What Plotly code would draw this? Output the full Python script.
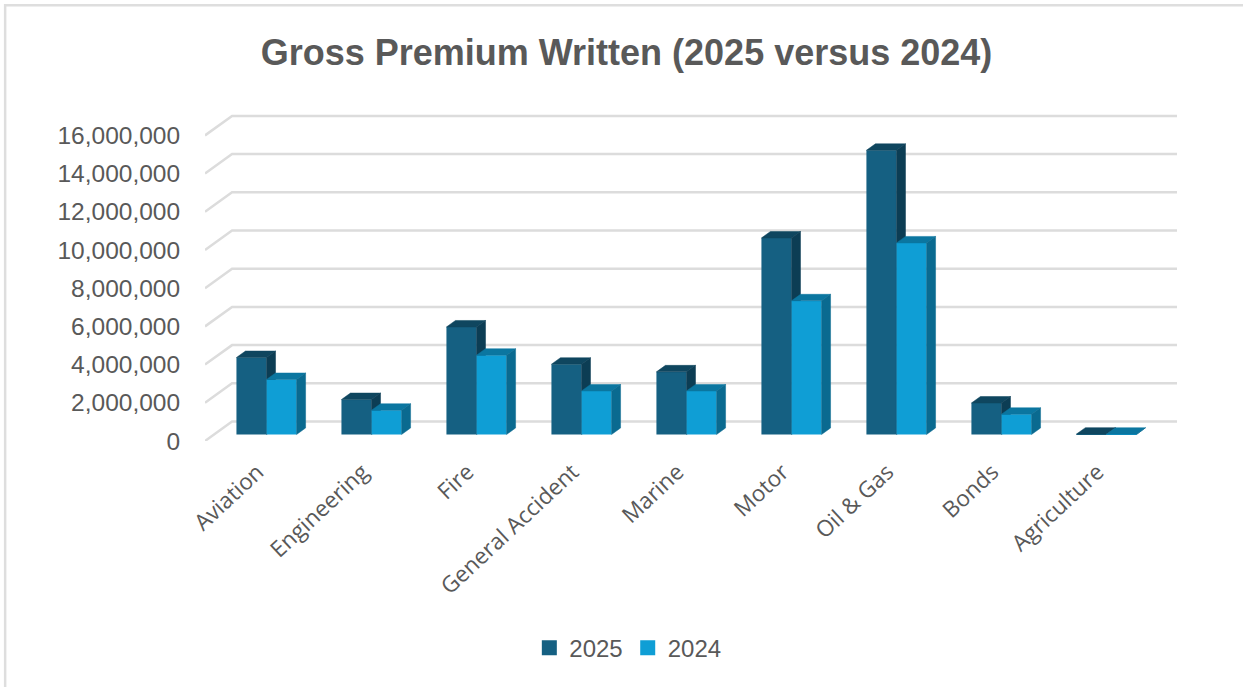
import plotly.graph_objects as go

# Source figures for the chart
categories = ["Aviation", "Engineering", "Fire", "General Accident", "Marine",
              "Motor", "Oil & Gas", "Bonds", "Agriculture"]
premium_2025 = [4030000, 1830000, 5630000, 3680000, 3280000, 10290000, 14880000, 1650000, 20000]
premium_2024 = [2880000, 1270000, 4150000, 2280000, 2280000, 7000000, 10030000, 1060000, 15000]
y_ticks = [0, 2000000, 4000000, 6000000, 8000000, 10000000, 12000000, 14000000, 16000000]

# Oblique projection: a point one full depth back moves right and up by these amounts
DEPTH_X = 0.2576
DEPTH_V = 1020000
BAR_W = 0.2863
NEAR, FAR = 1 / 3, 2 / 3

WIDTH, HEIGHT = 1243, 687
HEADROOM = 100000  # keeps the top gridline clear of the plot edge
M_L, M_R, M_T, M_B = 205.3, 66, 114.1, 246
X_RANGE = [-0.5, len(categories) - 0.5 + DEPTH_X]
Y_RANGE = [0, max(y_ticks) + DEPTH_V + HEADROOM]
TEXT = "#595959"
GRID = "#dcdcdc"
COLOR_2025 = "#156082"
COLOR_2024 = "#0f9ed5"


def faces(values, left_shift):
    """Return polygon outlines for the top and right-hand faces of a bar series."""
    top_x, top_y, side_x, side_y = [], [], [], []
    for i, v in enumerate(values):
        x0 = i + DEPTH_X * NEAR + left_shift
        x1 = x0 + BAR_W
        dx = DEPTH_X * (FAR - NEAR)
        dv = DEPTH_V * (FAR - NEAR)
        base = DEPTH_V * NEAR
        top = base + v
        top_x += [x0, x1, x1 + dx, x0 + dx, x0, None]
        top_y += [top, top, top + dv, top + dv, top, None]
        side_x += [x1, x1 + dx, x1 + dx, x1, x1, None]
        side_y += [base, base + dv, top + dv, top, base, None]
    return top_x, top_y, side_x, side_y


def polygon(xs, ys, color, xaxis, yaxis):
    return go.Scatter(x=xs, y=ys, mode="lines", fill="toself", fillcolor=color,
                      line=dict(color=color, width=0.5), hoverinfo="skip",
                      showlegend=False, xaxis=xaxis, yaxis=yaxis)


def front(values, name, color, shift, xaxis, yaxis):
    centres = [i + DEPTH_X * NEAR + shift + BAR_W / 2 for i in range(len(values))]
    return go.Bar(x=centres, y=values, base=DEPTH_V * NEAR, width=BAR_W, name=name,
                  marker=dict(color=color, line=dict(width=0)), showlegend=False,
                  xaxis=xaxis, yaxis=yaxis)


def legend_key(name, color):
    return go.Scatter(x=[None], y=[None], mode="markers", name=name,
                      marker=dict(symbol="square", size=15, color=color, line=dict(width=0)))


# Back wall and side wall gridlines
grid_x, grid_y = [], []
for t in y_ticks:
    grid_x += [X_RANGE[0], X_RANGE[0] + DEPTH_X, X_RANGE[1], None]
    grid_y += [t, t + DEPTH_V, t + DEPTH_V, None]

fig = go.Figure()
fig.add_trace(go.Scatter(x=grid_x, y=grid_y, mode="lines", line=dict(color=GRID, width=2.5),
                         hoverinfo="skip", showlegend=False, xaxis="x", yaxis="y"))
fig.add_trace(legend_key("2025", COLOR_2025))
fig.add_trace(legend_key("2024", COLOR_2024))

# The 2025 series paints first so the 2024 bars sit over its side faces
top_a, top_ay, side_a, side_ay = faces(premium_2025, -BAR_W)
fig.add_trace(front(premium_2025, "2025", COLOR_2025, -BAR_W, "x2", "y2"))
fig.add_trace(polygon(top_a, top_ay, "#0f465f", "x2", "y2"))
fig.add_trace(polygon(side_a, side_ay, "#0c3d54", "x2", "y2"))

top_b, top_by, side_b, side_by = faces(premium_2024, 0)
fig.add_trace(front(premium_2024, "2024", COLOR_2024, 0, "x3", "y3"))
fig.add_trace(polygon(top_b, top_by, "#0b76a0", "x3", "y3"))
fig.add_trace(polygon(side_b, side_by, "#0a6a90", "x3", "y3"))

overlay = dict(visible=False, fixedrange=True)

# Chart frame: a rule along the top and left edges only
plot_w = WIDTH - M_L - M_R
plot_h = HEIGHT - M_T - M_B
fx = lambda px: (px - M_L) / plot_w
fy = lambda py: (HEIGHT - M_B - py) / plot_h
frame = dict(type="path", xref="paper", yref="paper",
             path=f"M {fx(5.5)},{fy(HEIGHT)} L {fx(5.5)},{fy(5.3)} L {fx(WIDTH)},{fy(5.3)}",
             line=dict(color="#dedede", width=2.5))

fig.update_layout(
    width=WIDTH, height=HEIGHT,
    autosize=False,
    margin=dict(l=M_L, r=M_R, t=M_T, b=M_B, autoexpand=False),
    paper_bgcolor="white", plot_bgcolor="white",
    title=dict(text="<b>Gross Premium Written (2025 versus 2024)</b>",
               x=(260 + 993) / 2 / WIDTH, xanchor="center", y=1 - 52 / HEIGHT, yanchor="middle",
               font=dict(family="Liberation Sans", size=36, color=TEXT)),
    font=dict(family="Liberation Sans", color=TEXT),
    shapes=[frame],
    showlegend=True,
    legend=dict(orientation="h", x=fx(628), xanchor="center", y=fy(648), yanchor="middle",
                font=dict(family="Liberation Sans", size=24, color=TEXT), traceorder="normal",
                itemwidth=30, bgcolor="rgba(0,0,0,0)"),
    xaxis=dict(range=X_RANGE, tickmode="array", tickvals=list(range(len(categories))),
               ticktext=categories, tickangle=-43, showgrid=False, zeroline=False,
               showline=False, ticks="outside", ticklen=8, tickcolor="rgba(0,0,0,0)",
               tickfont=dict(family="Open Sans", size=22.5, color=TEXT), fixedrange=True),
    yaxis=dict(range=Y_RANGE, tickmode="array", tickvals=y_ticks, tickformat=",d",
               showgrid=False, zeroline=False, showline=False, ticks="outside", ticklen=19,
               tickcolor="rgba(0,0,0,0)",
               tickfont=dict(family="Liberation Sans", size=24.5, color=TEXT), fixedrange=True),
    xaxis2=dict(range=X_RANGE, overlaying="x", **overlay),
    yaxis2=dict(range=Y_RANGE, overlaying="y", **overlay),
    xaxis3=dict(range=X_RANGE, overlaying="x", **overlay),
    yaxis3=dict(range=Y_RANGE, overlaying="y", **overlay),
)

fig.write_html("out.html")
